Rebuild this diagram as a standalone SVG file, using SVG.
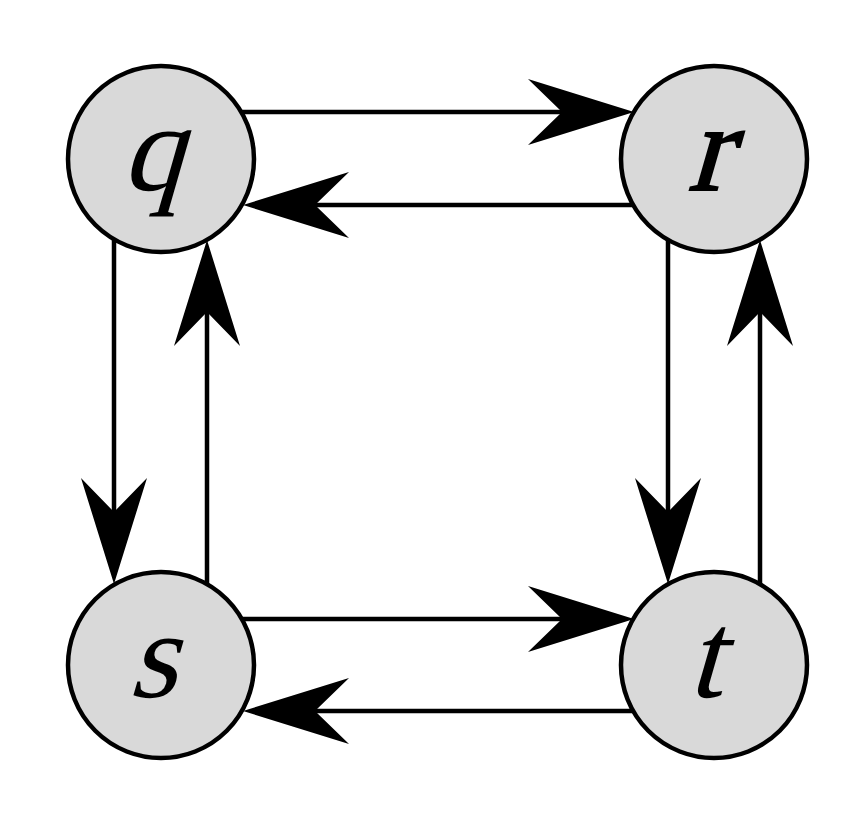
<svg xmlns="http://www.w3.org/2000/svg" width="864" height="830" viewBox="0 0 864 830">
<style>
.edge{stroke:#000;stroke-width:4.5;fill:none;marker-end:url(#ah)}
.node circle{fill:#d9d9d9;stroke:#000;stroke-width:4.5}
.node text{font-family:'Liberation Serif','Times New Roman',serif;font-size:124px;text-anchor:middle;fill:#000}
</style>
<defs>
<marker id="ah" markerUnits="userSpaceOnUse" viewBox="-110 -36 116 72" markerWidth="116" markerHeight="72" refX="-20" refY="0" orient="auto">
<path d="M0,0 L-106,-33 L-72,0 L-106,33 Z" fill="#000"/>
</marker>
</defs>
<rect width="864" height="830" fill="#fff"/>
<g id="connectors">
<line class="edge" x1="200" y1="112" x2="614" y2="112"/>
<line class="edge" x1="680" y1="205" x2="263" y2="205"/>
<line class="edge" x1="200" y1="619" x2="614" y2="619"/>
<line class="edge" x1="680" y1="711" x2="263" y2="711"/>
<line class="edge" x1="114" y1="200" x2="114" y2="564"/>
<line class="edge" x1="207" y1="620" x2="207" y2="260"/>
<line class="edge" x1="668" y1="200" x2="668" y2="564"/>
<line class="edge" x1="760" y1="620" x2="760" y2="260"/>
</g>
<g id="q" class="node"><circle cx="161" cy="159" r="93"/><text transform="translate(152,190) skewX(-16)">q</text></g>
<g id="r" class="node"><circle cx="714" cy="159" r="93"/><text transform="translate(708,190) skewX(-16)" stroke="#000" stroke-width="2">r</text></g>
<g id="s" class="node"><circle cx="161" cy="665" r="93"/><text transform="translate(152,697) skewX(-16)">s</text></g>
<g id="t" class="node"><circle cx="714" cy="665" r="93"/><text transform="translate(704,697) skewX(-16)">t</text></g>
</svg>
